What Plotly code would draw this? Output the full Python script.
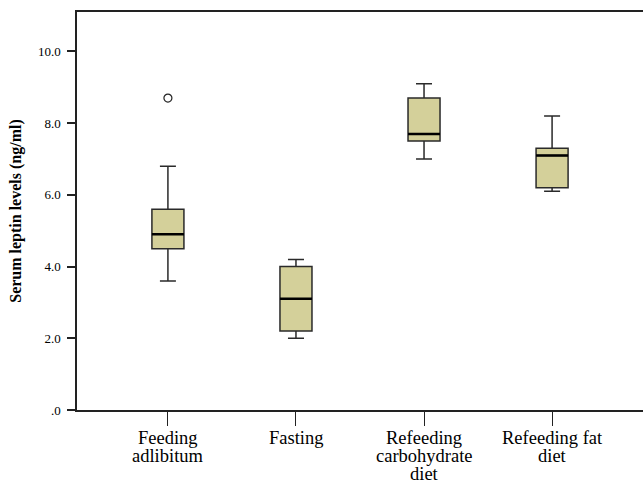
import plotly.graph_objects as go

categories = ["Feeding<br>adlibitum", "Fasting", "Refeeding<br>carbohydrate<br>diet", "Refeeding fat<br>diet"]
positions = [0, 1, 2, 3]
lower_whisker = [3.6, 2.0, 7.0, 6.1]
q1 = [4.5, 2.2, 7.5, 6.2]
median = [4.9, 3.1, 7.7, 7.1]
q3 = [5.6, 4.0, 8.7, 7.3]
upper_whisker = [6.8, 4.2, 9.1, 8.2]
outlier_x = [0]
outlier_y = [8.7]
y_ticks = [0, 2, 4, 6, 8, 10]
y_tick_text = [".0", "2.0", "4.0", "6.0", "8.0", "10.0"]

BOX_W = 0.25
fill = "#D4D09A"
serif = "Liberation Serif, Times New Roman, serif"

fig = go.Figure()
fig.add_trace(go.Box(
    x=positions, q1=q1, median=median, q3=q3,
    lowerfence=lower_whisker, upperfence=upper_whisker,
    width=BOX_W, whiskerwidth=0.5,
    fillcolor=fill, line=dict(color="#2a2a2a", width=1.5),
    boxpoints=False, showlegend=False, hoverinfo="skip",
))
for p, m in zip(positions, median):
    fig.add_trace(go.Scatter(
        x=[p - BOX_W / 2, p + BOX_W / 2], y=[m, m], mode="lines",
        line=dict(color="black", width=2.5), showlegend=False, hoverinfo="skip",
    ))
fig.add_trace(go.Scatter(
    x=outlier_x, y=outlier_y, mode="markers",
    marker=dict(symbol="circle-open", size=8, color="#222", line=dict(width=1.2)),
    showlegend=False, hoverinfo="skip",
))

# category labels, one annotation per line for tight line spacing
LINE_STEP = 18
for p, cat in zip(positions, categories):
    for j, line in enumerate(cat.split("<br>")):
        fig.add_annotation(
            x=p, y=0, xref="x", yref="paper", yanchor="top", xanchor="center",
            text=line, showarrow=False, yshift=-17 - LINE_STEP * j,
            font=dict(size=18.5, family=serif, color="black"), borderpad=0,
        )

fig.update_layout(
    width=643, height=484,
    margin=dict(l=77, r=0, t=12, b=74, autoexpand=False),
    paper_bgcolor="white", plot_bgcolor="white",
    font=dict(family=serif, color="black"),
)
fig.update_xaxes(
    range=[-0.71, 3.71], tickmode="array", tickvals=positions, showticklabels=False,
    showline=True, linecolor="#222", linewidth=1.5, mirror=True,
    ticks="outside", ticklen=14, tickwidth=1, tickcolor="#222",
    showgrid=False, zeroline=False, automargin=False,
)
fig.update_yaxes(
    range=[0, 11.1], tickmode="array", tickvals=y_ticks, ticktext=y_tick_text,
    showline=True, linecolor="#222", linewidth=1.5,
    ticks="outside", ticklen=8, tickwidth=1.5, tickcolor="#222",
    showgrid=False, zeroline=False, tickfont=dict(size=13, family=serif),
    ticklabelstandoff=4,
    title=dict(text="<b>Serum leptin levels (ng/ml)</b>", font=dict(size=16, family=serif), standoff=12),
    automargin=False,
)

fig.write_html("out.html", config={"displayModeBar": False},
               post_script="document.body.style.margin='0';document.body.style.padding='0';document.body.style.overflow='hidden';")
